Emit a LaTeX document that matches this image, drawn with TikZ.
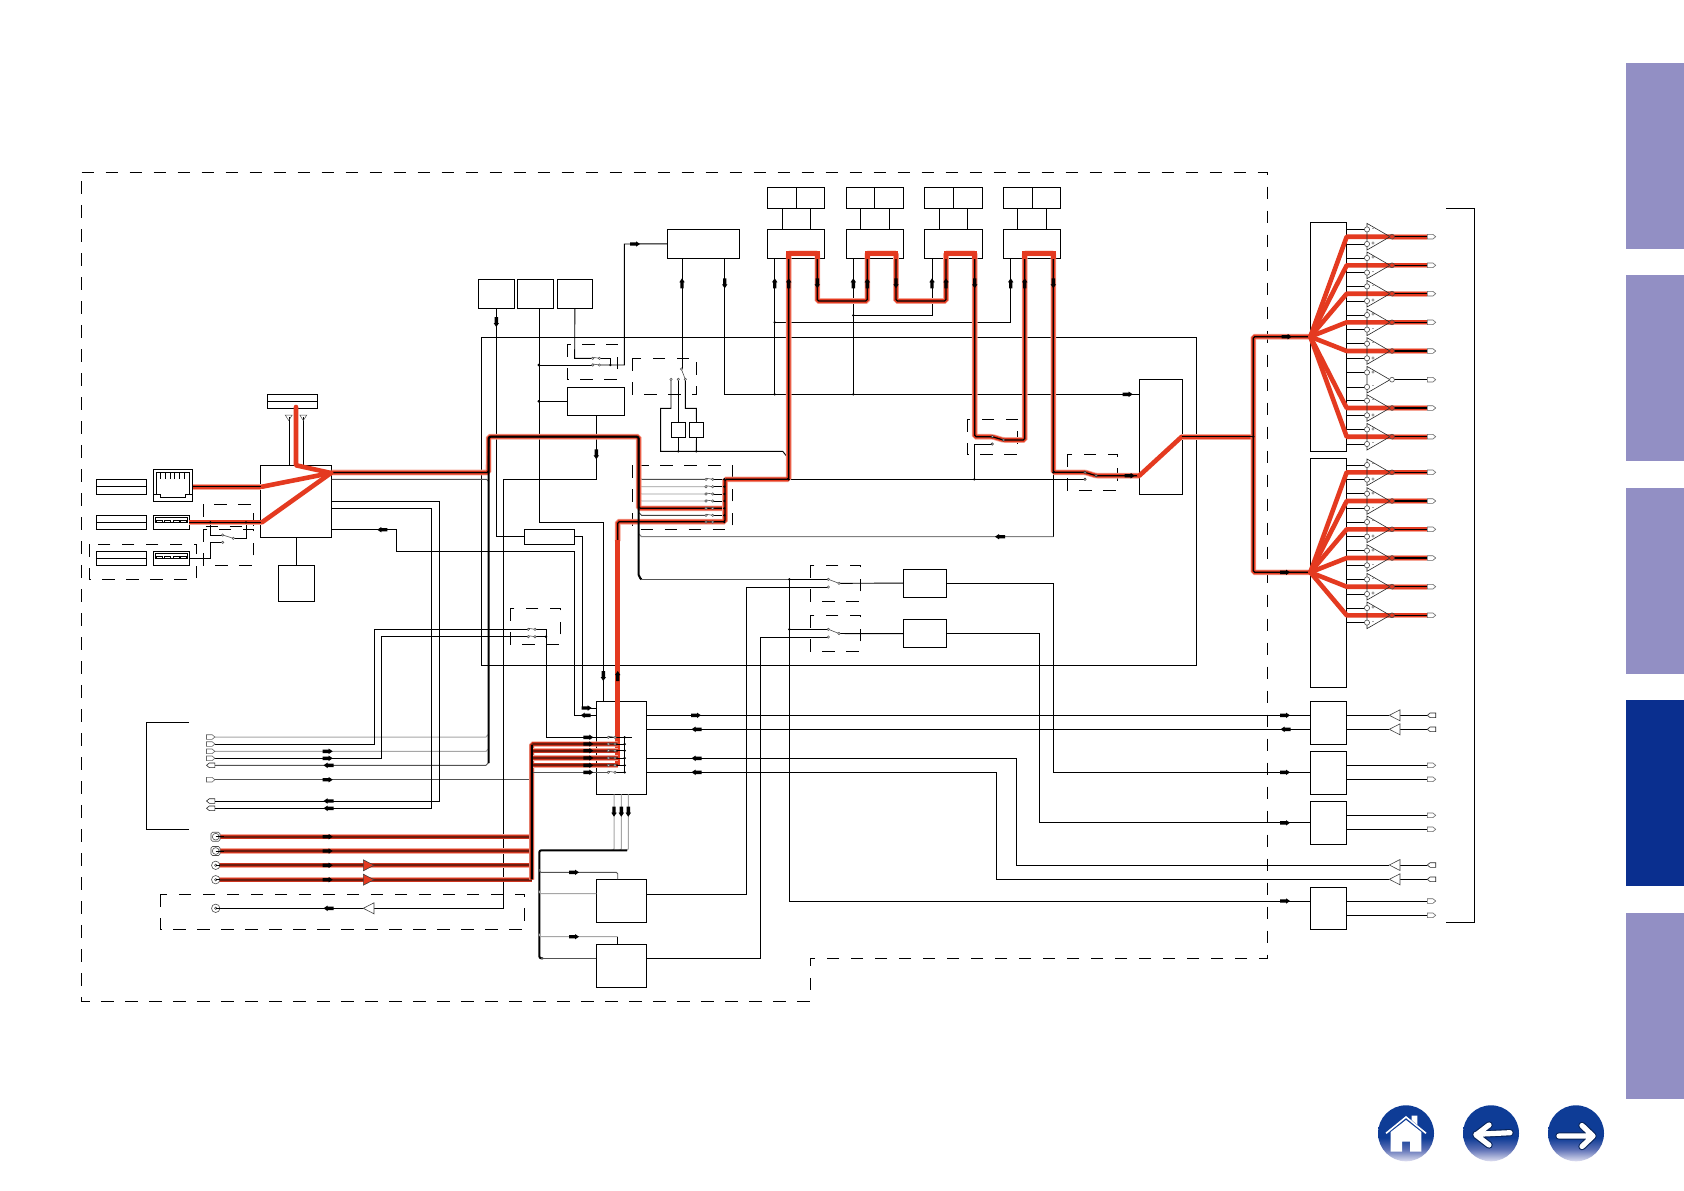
\documentclass[tikz,border=0pt]{standalone}
\usepackage{fontspec}
\setmainfont{Liberation Sans}
\usetikzlibrary{calc}
\definecolor{redc}{RGB}{228,58,32}
\definecolor{redd}{RGB}{205,52,30}
\definecolor{redk}{RGB}{110,28,14}
\definecolor{redhalo}{RGB}{245,165,150}
\definecolor{tabl}{RGB}{146,143,196}
\definecolor{tabd}{RGB}{10,47,143}
\definecolor{navb}{RGB}{14,60,150}
\definecolor{navm}{RGB}{90,110,180}
\definecolor{navp}{RGB}{222,222,240}
\pgfdeclareverticalshading{navbtn}{100bp}{color(0bp)=(navp);color(25bp)=(navp);color(36bp)=(navm);color(46bp)=(navb);color(75bp)=(navb);color(100bp)=(navb)}
\tikzset{
 wire/.style={line width=0.95,black},
 gwire/.style={line width=1,black!35},
 dwire/.style={line width=0.9,black!68},
 busw/.style={line width=2,black,rounded corners=2},
 redw/.style={preaction={draw,line width=5.6,color=redhalo},preaction={draw,line width=4,color=redc},line width=1.2,draw=black,rounded corners=1.5},
 reddk/.style={preaction={draw,line width=5.4,color=redhalo},preaction={draw,line width=4,color=redd},line width=1.9,draw=redk,rounded corners=1.5},
 redf/.style={line width=4.6,redc,line join=round,line cap=round},
 dashbox/.style={line width=1,dash pattern=on 12.5pt off 11.5pt},
 bxs/.style={draw,line width=1,inner sep=0pt,outer sep=0pt},
 amsign/.style={inner sep=0pt,outer sep=0pt,font=\fontsize{6}{6}\selectfont},
 tabs/.style={inner sep=0pt,outer sep=0pt,minimum width=58pt}
}
\newcommand\mybx[5]{\node[bxs,minimum width={(#4-#2)*1pt},minimum height={(#5-#3)*1pt}] (#1) at ({(#2+#4)/2},{(#3+#5)/2}) {};}
\newcommand\myfat[3]{\fill[black,shift={(#1,#2)},rotate=#3] (-5,-1.7) -- (1,-1.7) -- (1,-2.7) -- (5,0) -- (1,2.7) -- (1,1.7) -- (-5,1.7) -- cycle;}
\newcommand\myct[2]{\draw[line width=0.5,black!70,fill=white] (#1,#2) circle (1.2);}
\newcommand\myjn[2]{\fill[black] (#1,#2) circle (1.3);}
\newcommand\mysw[2]{\draw[line width=0.6,black!70] (#1,#2-1) -- (#1+6.7,#2); \myct{#1}{#2}\myct{#1+6.7}{#2}}
\newcommand\conR[2]{\draw[line width=0.6,black!60,fill=white] (#1,#2-2.3) -- (#1+5.6,#2-2.3) -- (#1+8.4,#2) -- (#1+5.6,#2+2.3) -- (#1,#2+2.3) -- cycle;}
\newcommand\conL[2]{\draw[line width=0.6,black!85,fill=white] (#1+8.4,#2-2.3) -- (#1+2.8,#2-2.3) -- (#1,#2) -- (#1+2.8,#2+2.3) -- (#1+8.4,#2+2.3) -- cycle;}
\newcommand\trgL[2]{\draw[line width=0.6,black!75,fill=white] (#1+10.7,#2-5.5) -- (#1,#2) -- (#1+10.7,#2+5.5) -- cycle;}
\newcommand\trgR[2]{\draw[line width=0.6,black!75,fill=redc] (#1,#2-5.5) -- (#1+10.7,#2) -- (#1,#2+5.5) -- cycle;}
\newcommand\myamp[3]{%
 \draw[wire] (1346.7,#1-7.3) -- (1367,#1-7.3);
 \draw[wire] (1346.7,#1+7.3) -- (1367,#1+7.3);
 \draw[line width=0.6,black!85] (1367,#1-13.3) -- (1390,#1) -- (1367,#1+13.3) -- cycle;
 \draw[line width=0.6,black!70,fill=white] (1367,#1-7.3) circle (2.6);
 \draw[line width=0.6,black!70,fill=white] (1367,#1+7.3) circle (2.6);
 \node[amsign] (sg#1a) at (1373,#1-7.3) {#2};
 \node[amsign] (sg#1b) at (1373,#1+7.3) {#3};}
\newcommand\myout[2]{% red output: #1 row y, #2 named fan apex
 \draw[redf] (#2) -- (1346.7,#1) -- (1392,#1);
 \draw[redw] (1392,#1) -- (1427.3,#1);
 \conR{1427.3}{#1}}
\begin{document}
\begin{tikzpicture}[x=1pt,y=-1pt]
\useasboundingbox (0,0) rectangle (1684,1191);
\fill[white] (0,0) rectangle (1684,1191);
% side tabs
\node[tabs,fill=tabl,minimum height=186pt] (tabA) at (1655,155.5) {};
\node[tabs,fill=tabl,minimum height=186pt] (tabB) at (1655,368) {};
\node[tabs,fill=tabl,minimum height=186pt] (tabC) at (1655,581) {};
\node[tabs,fill=tabd,minimum height=186pt] (tabD) at (1655,793) {};
\node[tabs,fill=tabl,minimum height=186pt] (tabE) at (1655,1006) {};
% dashed frames
\draw[dashbox] (81.7,172.3) -- (1267.3,172.3) -- (1267.3,958.5) -- (810.5,958.5) -- (810.5,1001.3) -- (81.7,1001.3) -- cycle;
\draw[dashbox] (160.3,894.3) rectangle (524.7,929.3);
\draw[dashbox] (89,544.3) rectangle (196.7,579.3);
\draw[dashbox] (203.3,504.3) rectangle (253.3,526);
\draw[dashbox] (203.3,529.3) rectangle (253.3,565.3);
\draw[dashbox] (567.3,344) rectangle (617.7,379.3);
\draw[dashbox] (632.3,358.3) rectangle (696.7,394.3);
\draw[dashbox] (632.7,465.3) rectangle (732.7,529.3);
\draw[dashbox] (510.3,608.3) rectangle (560.3,644.3);
\draw[dashbox] (810.3,565.3) rectangle (860.3,601.3);
\draw[dashbox] (810.3,615.3) rectangle (860.3,651.3);
\draw[dashbox] (967.3,419.3) rectangle (1017.7,454.3);
\draw[dashbox] (1067.3,454.3) rectangle (1117.7,490.3);
% brackets
\coordinate (brLa) at (189,722.3);\coordinate (brLb) at (189,829.3);
\coordinate (brRa) at (1446,208.3);\coordinate (brRb) at (1446,922.3);
\draw[wire] (brLa) -- (146.3,722.3) -- (146.3,829.3) -- (brLb);
\draw[wire] (brRa) -- (1474.3,208.3) -- (1474.3,922.3) -- (brRb);
% boxes
\mybx{frame}{481.7}{337.3}{1196.7}{665.3}
\mybx{lblA}{96.3}{479.3}{146.3}{494.3}\draw[wire] (lblA.west) -- (lblA.east);
\mybx{lblB}{96.3}{515.3}{146.3}{529.3}\draw[wire] (lblB.west) -- (lblB.east);
\mybx{lblC}{96.3}{551.3}{146.3}{565.3}\draw[wire] (lblC.west) -- (lblC.east);
\mybx{ant}{267.3}{394.3}{317.7}{408.3}\draw[wire] (ant.west) -- (ant.east);
\mybx{eth}{153.3}{469.3}{192.7}{501.3}
\mybx{usbA}{153.3}{515.3}{189.3}{529.3}
\mybx{usbB}{153.3}{551.3}{189.3}{565.3}
\mybx{cpu}{260.3}{465.3}{331.7}{537.3}
\mybx{rfb}{278.3}{565.3}{314.3}{601.3}
\mybx{sA}{478.3}{279.3}{514.3}{308.3}
\mybx{sB}{517.3}{279.3}{553.7}{308.3}
\mybx{sC}{557.3}{279.3}{592.3}{308.3}
\mybx{flash}{567.3}{387.3}{624.7}{415.3}
\mybx{bar}{524.3}{529.3}{574.7}{544.3}
\mybx{tm}{667.3}{229.3}{739.3}{258.3}
\mybx{kA}{671.3}{422.3}{685.3}{437.3}
\mybx{kB}{689.3}{422.3}{703.7}{437.3}
\foreach \i/\a/\m/\b/\la/\lb in {1/767.3/796.7/824.3/782.7/810.3,2/846.3/874.7/903.3/860.3/889.3,3/924.3/953.3/982.3/939.3/967.3,4/1003.3/1032.3/1060.3/1017.3/1046.3}{
 \mybx{pu\i}{\a}{187.3}{\m}{208.3}
 \mybx{pv\i}{\m}{187.3}{\b}{208.3}
 \mybx{pl\i}{\a}{229.3}{\b}{258.3}
 \draw[wire] (\la,208.3) -- (\la,229.3);
 \draw[wire] (\lb,208.3) -- (\lb,229.3);
}
\mybx{ch}{596.3}{701.3}{646.3}{794.3}
\mybx{hdA}{596.3}{879.3}{646.3}{922.3}
\mybx{hdB}{596.3}{944.3}{646.3}{987.3}
\mybx{swbA}{903.3}{569.3}{946.3}{597}
\mybx{swbB}{903.3}{619.7}{946.3}{647.7}
\mybx{dac}{1139.3}{379.3}{1182.7}{494.3}
\mybx{boxA}{1310.3}{222.3}{1346.7}{451.3}
\mybx{boxB}{1310.3}{458.3}{1346.7}{687.3}
\mybx{cA}{1310.3}{701.3}{1346.7}{744.3}
\mybx{cB}{1310.3}{751.3}{1346.7}{794.3}
\mybx{cC}{1310.3}{801.3}{1346.7}{844.3}
\mybx{cD}{1310.3}{887.3}{1346.7}{929.3}
\coordinate (apxA) at (boxA.west |- 0,336.7);
\coordinate (apxB) at (boxB.west |- 0,572.3);
% ethernet & usb details
\draw[line width=0.9] (156.3,472.3) -- (189.3,472.3) -- (189.3,494.3) -- (185,494.3) -- (185,497.3) -- (160.7,497.3) -- (160.7,494.3) -- (156.3,494.3) -- cycle;
\draw[line width=0.9] (153.3,494.3) -- (160.7,494.3) (185,494.3) -- (192.7,494.3);
\foreach \k in {0,...,6}{\draw[line width=0.7] ({160.7+\k*4.7},472.3) -- ({160.7+\k*4.7},479.3);}
\foreach \yy in {515.3,551.3}{
 \draw[line width=0.8] (155.7,\yy+2) rectangle (187.7,\yy+7.3);
 \foreach \xx in {156.3,164.7,173.3,180.7}{\draw[line width=0.6] (\xx,\yy+7.3) -- (\xx,\yy+5.3) -- (\xx+5.5,\yy+5.3) -- (\xx+5.5,\yy+7.3);}
}
% antennas
\draw[wire] (289.7,465.3) -- (289.7,417);
\draw[wire] (303.3,465.3) -- (303.3,417);
\foreach \xx in {288.7,303.3}{\draw[line width=0.5,black!70] (\xx-3.5,415) -- (\xx+3.5,415) -- (\xx,420.5) -- cycle;}
% cpu side wires
\draw[wire] (rfb.north) -- (296.3,537.3);
\draw[dwire] (cpu.east |- 0,479.3) -- (486.5,479.3) -- (488.7,481.5);
\draw[wire] (cpu.east |- 0,529.7) -- (396.3,529.7) -- (396.3,551.7) -- (574.3,551.7) -- (574.3,715.3) -- (ch.west |- 0,715.3);
% usb switch
\draw[wire] (usbB.east) -- (210.3,558.3) -- (210.3,542.3) -- (222.7,542.3);
\draw[wire] (210.3,522.3) -- (210.3,535) -- (222.7,535);
\draw[wire] (233.3,538.3) -- (246,538.3) -- (246,522.3);
\draw[line width=0.6,black!70] (222.7,535) -- (233.3,538.3);
\myct{222.7}{535}\myct{233.3}{538.3}\myct{222.7}{542.3}
% left connectors
\foreach \n/\yy in {L1/737,L2/744,L3/751.3,L4/758.3,L5/765.3,L6/779.7,L7/801,L8/808.3}{\coordinate (\n) at (215,\yy);}
\foreach \n/\yy in {J1/836.7,J2/851,J3/865.3,J4/879.7,J5/908.3}{\coordinate (\n) at (219,\yy);}
\coordinate (swAa) at (528.3,629.3);\coordinate (swAb) at (528.3,636.7);
\draw[gwire] (L1) -- (486,737) -- (488.7,734);
\draw[wire] (L2) -- (374.3,744) -- (374.3,629.3) -- (swAa);
\draw[gwire] (L3) -- (486,751.3) -- (488.7,748.5);
\draw[wire] (L4) -- (381.3,758.3) -- (381.3,636.7) -- (swAb);
\draw[dwire] (L5) -- (486,765.3) -- (488.7,762.5);
\draw[dwire] (L6) -- (531,779.7);
\draw[wire] (L7) -- (439.3,801) -- (439.3,501.7) -- (cpu.east |- 0,501.7);
\draw[wire] (L8) -- (431.7,808.3) -- (431.7,508.3) -- (cpu.east |- 0,508.3);
\draw[wire] (J5) -- (503.3,908.3) -- (503.3,479.3) -- (596,479.3) -- (flash.south);
% chip left switch
\draw[wire] (535,629.3) -- (546,629.3) -- (546,737.3) -- (631.7,737.3);
\draw[wire] (535,636.7) -- (546,636.7);
\mysw{528.3}{629.3}\mysw{528.3}{636.7}\myjn{546}{636.7}
% top-left
\draw[wire] (sA.south) -- (496.3,0 |- bar.west) -- (bar.west);
\draw[wire] (539.3,0 |- sB.south) -- (539.3,522.3) -- (603.3,522.3) -- (603.3,0 |- ch.north);
\draw[wire] (bar.east) -- (582.3,0 |- bar.east) -- (582.3,708) -- (ch.west |- 0,708);
\draw[wire] (sC.south) -- (574.7,358.3) -- (592.7,358.3);
\draw[wire] (599.3,358.3) -- (610.3,358.3) -- (610.3,365);
\draw[wire] (538.7,365) -- (592.7,365);
\draw[wire] (599.3,365) -- (624.3,365) -- (624.3,244) -- (tm.west);
\draw[wire] (538.7,0 |- flash.west) -- (flash.west);
\mysw{592.7}{358.3}\mysw{592.7}{365}\myjn{538.7}{365}\myjn{538.7}{401.3}\myjn{610.3}{365}
% relay switch
\draw[wire] (682.3,0 |- tm.south) -- (682.3,369);
\draw[line width=0.6,black!70] (681.3,369) -- (685.3,379.3);
\draw[wire] (671,379.3) -- (671,408.3) -- (660.7,408.3) -- (660.7,451.3) -- (782.7,451.3) -- (788.3,458.3);
\draw[wire] (678.3,379.3) -- (kA.north);
\draw[wire] (685.3,379.3) -- (685.3,408.3) -- (696.3,408.3) -- (kB.north);
\draw[wire] (kA.south) -- (678.3,451.3);
\draw[wire] (kB.south) -- (696.3,451.3);
\myct{671}{379.3}\myct{678.3}{379.3}\myct{685.3}{379.3}\myct{681.3}{369}
\myjn{678.3}{451.3}\myjn{696.3}{451.3}\myjn{788.3}{458.3}
% tm to dac rail
\draw[wire] (724.7,0 |- tm.south) -- (724.7,394.3) -- (dac.west |- 0,394.3);
\draw[wire] (774.7,0 |- pl1.south) -- (774.7,394.3);
\draw[wire] (853.3,0 |- pl2.south) -- (853.3,394.3);
\draw[wire] (932,0 |- pl3.south) -- (932,315.3) -- (853.3,315.3);
\draw[wire] (1010.7,0 |- pl4.south) -- (1010.7,322.3) -- (774.7,322.3);
\myjn{774.7}{394.3}\myjn{853.3}{394.3}\myjn{853.3}{315.3}\myjn{774.7}{322.3}
% mid horizontal & gray returns
\draw[wire] (788.7,479.3) -- (1085,479.3);
\draw[wire] (974.3,479.3) -- (974.3,444) -- (992.3,444);
\draw[wire] (1053.3,472.3) -- (1053.3,536.7);
\draw[gwire,black!50] (1053.3,536.7) -- (641.5,536.7) -- (639,534);
% multi switch rows
\foreach \yy/\cc in {479.3/black!70,486.7/black!40,494/black!40,501/black!40,515.3/black!75}{
 \draw[line width=0.9,color=\cc] (639,\yy-2.5) -- (641.5,\yy) -- (706,\yy);
 \draw[wire] (713,\yy) -- (724.3,\yy);
}
\draw[wire] (713,508.3) -- (724.3,508.3);
\draw[wire] (713,522) -- (724.3,522);
% red wires
\draw[redw] (cpu.east |- 0,472.5) -- (488.5,472.5) -- (488.7,436.7) -- (638.7,436.7) -- (638.7,508.3) -- (724.3,508.3);
\draw[redw] (617.7,541) -- (617.7,521.7) -- (725,521.7) -- (725,479.3) -- (788.7,479.3) -- (788.7,253.3) -- (817.3,253.3) -- (817.3,301) -- (867.3,301) -- (867.3,253.3) -- (896,253.3) -- (896,301) -- (946,301) -- (946,253.3) -- (974.7,253.3) -- (974.7,436.7) -- (992.3,436.7) -- (1003.3,440) -- (1024.7,440) -- (1024.7,253.3) -- (1053.3,253.3) -- (1053.3,472.3) -- (1085,472.3) -- (1096,475.7) -- (dac.west |- 0,475.7);
\foreach \a/\b in {788.7/817.3,867.3/896,946/974.7,1024.7/1053.3}{\draw[redf,line cap=butt,line join=miter] (\a,259) -- (\a,253.3) -- (\b,253.3) -- (\b,259);}
\draw[redf,line cap=butt] (617.7,540) -- (617.7,765.3);
\draw[redf] (296,407) -- (296,465.3) -- (331,473);
\draw[redf] (262,486.7) -- (331,473);
\draw[redf] (262,522.3) -- (331,473);
\draw[redw] (eth.east |- 0,486.7) -- (261,486.7);
\draw[redw] (usbA.east) -- (261,522.3);
\draw[redf] (dac.west |- 0,475.7) -- (1181.7,436.7);
\draw[redw] (1181.7,436.7) -- (1253.3,436.7);
\draw[redw] (apxA) -- (1253.3,336.7) -- (1253.3,572.3) -- (apxB);
\draw[wire,line width=1.2] (1181.7,436.7) -- (1253.3,436.7);
\myjn{1253.3}{436.7}
% black buses over the red
\draw[busw] (488.7,763) -- (488.7,436.7) -- (638.7,436.7) -- (638.7,576.9) -- (641.5,579.3);
\draw[dwire] (641,579.3) -- (789.3,579.3);
\draw[wire] (789.3,579.3) -- (828.3,579.3);
% switch contacts on red path
\draw[line width=0.6,black!80,fill=white] (992.3,436.7) circle (1.2);
\draw[line width=0.6,black!80,fill=white] (1003.3,440) circle (1.2);
\draw[line width=0.6,black!80,fill=white] (992.3,444) circle (1.2);
\draw[line width=0.6,black!80,fill=white] (1085,472.3) circle (1.2);
\draw[line width=0.6,black!80,fill=white] (1096,475.7) circle (1.2);
\draw[line width=0.6,black!80,fill=white] (1085,479.3) circle (1.2);
\myjn{974.3}{479.3}\myjn{1053.3}{472.3}\myjn{788.7}{479.3}
\myjn{210.3}{522.3}\myjn{246}{522.3}
% multi switch contacts
\foreach \yy in {479.3,486.7,494,501,508.3,515.3,522}{\mysw{706}{\yy}\myjn{724.3}{\yy}}
% bottom-left rows
\foreach \n/\yy in {J1/836.7,J2/851,J3/865.3,J4/879.7}{\draw[reddk] (\n) -- (531.7,\yy);}
\draw[reddk] (531.7,879.7) -- (531.7,744) -- (617.7,744);
\foreach \yy in {750.7,758,765.3}{\draw[reddk] (531.7,\yy) -- (617.7,\yy);}
\draw[dwire] (531.7,772.3) -- (608.3,772.3);
\draw[line width=1.8,black] (531.9,879) -- (531.9,745);
\foreach \yy in {737.3,744,750.7,758,765.3,772.3}{
 \draw[wire] (615.7,\yy) -- (624.7,\yy);
 \mysw{608.3}{\yy}\myjn{624.7}{\yy}
 \myfat{588.3}{\yy}{0}}
\draw[wire] (624.7,737.3) -- (624.7,772.3);
% chip right wires
\coordinate (Ta) at (1389.3,865);\coordinate (Tb) at (1389.3,879.3);
\draw[wire] (ch.east |- 0,715.3) -- (cA.west |- 0,715.3);
\draw[wire] (ch.east |- 0,729.3) -- (cA.west |- 0,729.3);
\draw[wire] (ch.east |- 0,758.3) -- (1016,758.3) -- (1016,865) -- (Ta);
\draw[wire] (ch.east |- 0,772.3) -- (996,772.3) -- (996,879.3) -- (Tb);
% chip bottom
\foreach \xx in {614,621.3}{\draw[gwire,rounded corners=1.5] (\xx,794.3) -- (\xx,850.3) -- (\xx-3,850.3);}
\draw[gwire,rounded corners=1.5] (628.3,794.3) -- (628.3,850.3) -- (625,850.3);
\foreach \xx in {614,621.3,628.3}{\myfat{\xx}{811.7}{270}}
\draw[busw] (627,850.3) -- (539.3,850.3) -- (539.3,958.3) -- (543,958.3);
\draw[dwire,rounded corners=1.5] (539.3,869) -- (539.3,872.3) -- (617.7,872.3) -- (617.7,0 |- hdA.north);
\draw[gwire,rounded corners=1.5] (539.3,890.5) -- (539.3,893.7) -- (hdA.west |- 0,893.7);
\draw[gwire,rounded corners=1.5] (539.3,933.5) -- (539.3,936.7) -- (617.7,936.7);
\draw[wire] (617.7,936.7) -- (617.7,0 |- hdB.north);
\draw[dwire] (541,958.3) -- (hdB.west |- 0,958.3);
% selector switches
\coordinate (sea) at (828.3,587);\coordinate (seb) at (828.3,637);
\draw[wire] (hdA.east |- 0,894) -- (746.7,894) -- (746.7,587) -- (sea);
\draw[wire] (hdB.east |- 0,958.3) -- (760.3,958.3) -- (760.3,637) -- (seb);
\draw[wire] (789.3,579.3) -- (789.3,901) -- (cD.west |- 0,901);
\draw[wire] (789.3,629.3) -- (828.3,629.3);
\draw[wire] (839,583.3) -- (swbA.west);
\draw[wire] (839,633.5) -- (swbB.west);
\draw[line width=0.6,black!70] (828.3,579.3) -- (839,583.3) (828.3,629.3) -- (839,633.5);
\myct{828.3}{579.3}\myct{828.3}{587}\myct{839}{583.3}\myct{828.3}{629.3}\myct{828.3}{637}\myct{839}{633.5}
\myjn{789.3}{579.3}\myjn{789.3}{629.3}
\draw[wire] (swbA.east) -- (1053.6,0 |- swbA.east) -- (1053.6,0 |- cB.west) -- (cB.west);
\draw[wire] (swbB.east) -- (1039.6,0 |- swbB.east) -- (1039.6,0 |- cC.west) -- (cC.west);
% right side chips
\foreach \yy in {715.3,729.3,865,879.3}{\draw[wire] (1400,\yy) -- (1427.3,\yy);\conL{1427.3}{\yy}\trgL{1389.3}{\yy}}
\draw[wire] (cA.east |- 0,715.3) -- (1389.3,715.3);
\draw[wire] (cA.east |- 0,729.3) -- (1389.3,729.3);
\foreach \n/\yy in {cB/765.3,cB/779.3,cC/815.3,cC/829.3,cD/901,cD/915.3}{\draw[wire] (\n.east |- 0,\yy) -- (1427.3,\yy);\conR{1427.3}{\yy}}
% amps, box A
\foreach \yy in {236.7,265.3,293.7,322.3,351,408,436.7}{\myout{\yy}{apxA}}
\myamp{236.7}{-}{+}\myamp{265.3}{+}{-}\myamp{293.7}{-}{+}\myamp{322.3}{+}{-}\myamp{351}{-}{+}\myamp{379.7}{+}{-}\myamp{408}{-}{+}\myamp{436.7}{+}{-}
\foreach \yy in {236.7,265.3,293.7,322.3,351,408,436.7}{\draw[line width=0.6,black!70,fill=redc] (1392,\yy) circle (2.4);}
\draw[wire] (1392,379.7) -- (1427.3,379.7);\conR{1427.3}{379.7}
\draw[line width=0.6,black!70,fill=white] (1392,379.7) circle (2.4);
% box B
\foreach \yy in {472.3,501,529.3,558,586.7,615.3}{\myout{\yy}{apxB}}
\foreach \yy/\ta/\tb in {472.3/-/+,501/+/-,529.3/-/+,558/+/-,586.7/-/+,615.3/+/-}{\myamp{\yy}{\ta}{\tb}\draw[line width=0.6,black!70,fill=redc] (1392,\yy) circle (2.4);}
% left connector glyphs
\foreach \yy in {737,744,751.3,758.3,779.7}{\conR{206.5}{\yy}}
\foreach \yy in {765.3,801,808.3}{\conL{206.5}{\yy}}
\foreach \yy in {836.7,851}{
 \draw[line width=0.6,black!70,fill=white,rounded corners=1.5] (211,\yy-4.5) rectangle (220,\yy+4.5);
 \draw[line width=0.6,black!70,fill=white] (215.7,\yy) circle (3.4);
 \draw[line width=0.7] (215.7,\yy) -- (224,\yy);}
\foreach \yy in {865.3,879.7,908.3}{
 \draw[line width=0.6,black!70,fill=white] (215.7,\yy) circle (4.2);
 \draw[line width=0.6,black!70] (215.7,\yy) circle (1.2);
 \draw[line width=0.7] (215.7,\yy) -- (220,\yy);}
\trgR{363.3}{865.3}\trgR{363.3}{879.7}\trgL{363.3}{908.3}
% arrow marks
\foreach \yy in {751.3,758.3,779.7,836.7,851,865.3,879.7}{\myfat{327.7}{\yy}{0}}
\foreach \yy in {765.3,801,808.3,908.3}{\myfat{328.5}{\yy}{180}}
\myfat{382.3}{529.7}{180}
\myfat{496.3}{322}{270}
\myfat{635}{244}{0}
\myfat{596.3}{454.3}{270}
\myfat{682}{283.3}{90}\myfat{724.7}{283.3}{270}
\foreach \xx in {774.7,788.7,853.3,867.3,932,946,1010.7,1024.7}{\myfat{\xx}{283.3}{90}}
\foreach \xx in {817.3,896,974.7,1053.3}{\myfat{\xx}{283.3}{270}}
\myfat{1127.7}{394.3}{0}\myfat{1129.7}{475.7}{0}\myfat{1000}{536.7}{180}
\myfat{586.7}{708}{0}\myfat{585.7}{715.3}{180}
\myfat{603.3}{676}{270}\myfat{617.7}{676}{90}
\myfat{696}{715.3}{0}\foreach \yy in {729.3,758.3,772.3}{\myfat{696.5}{\yy}{180}}
\myfat{574}{872.3}{0}\myfat{574}{936.7}{0}
\myfat{1286.7}{336.7}{0}\myfat{1285}{572.3}{0}
\myfat{1285}{715.3}{0}\myfat{1285.5}{729.3}{180}\myfat{1285}{772.3}{0}\myfat{1285}{822.8}{0}\myfat{1285}{901}{0}
% nav buttons
\shade[shading=navbtn] (1406,1133.3) circle (28);
\shade[shading=navbtn] (1491,1133.3) circle (28);
\shade[shading=navbtn] (1576,1133.3) circle (28);
% house
\fill[white] (1411.7,1115.7) -- (1417.3,1115.7) -- (1417.3,1125) -- (1411.7,1120) -- cycle;
\draw[white,line width=1.6] (1386,1133.3) -- (1406,1117) -- (1426,1133.3);
\fill[white] (1390.7,1132) -- (1406,1120) -- (1421.3,1132) -- (1421.3,1151.7) -- (1410,1151.7) -- (1410,1141.7) -- (1402,1141.7) -- (1402,1151.7) -- (1390.7,1151.7) -- cycle;
% left arrow
\draw[navb!60!black,line width=7.4,line cap=round,line join=round] (1510,1132.7) -- (1476,1134.3) (1489,1125) -- (1476,1135) -- (1489,1145);
\draw[white,line width=5.2,line cap=round,line join=round] (1510,1132.7) -- (1476,1134.3) (1489,1125) -- (1476,1135) -- (1489,1145);
% right arrow
\draw[navb!60!black,line width=7.4,line cap=round,line join=round] (1559,1136) -- (1592,1136) (1582,1125.5) -- (1593,1136) -- (1582,1146.5);
\draw[white,line width=5.2,line cap=round,line join=round] (1559,1136) -- (1592,1136) (1582,1125.5) -- (1593,1136) -- (1582,1146.5);
\end{tikzpicture}
\end{document}
